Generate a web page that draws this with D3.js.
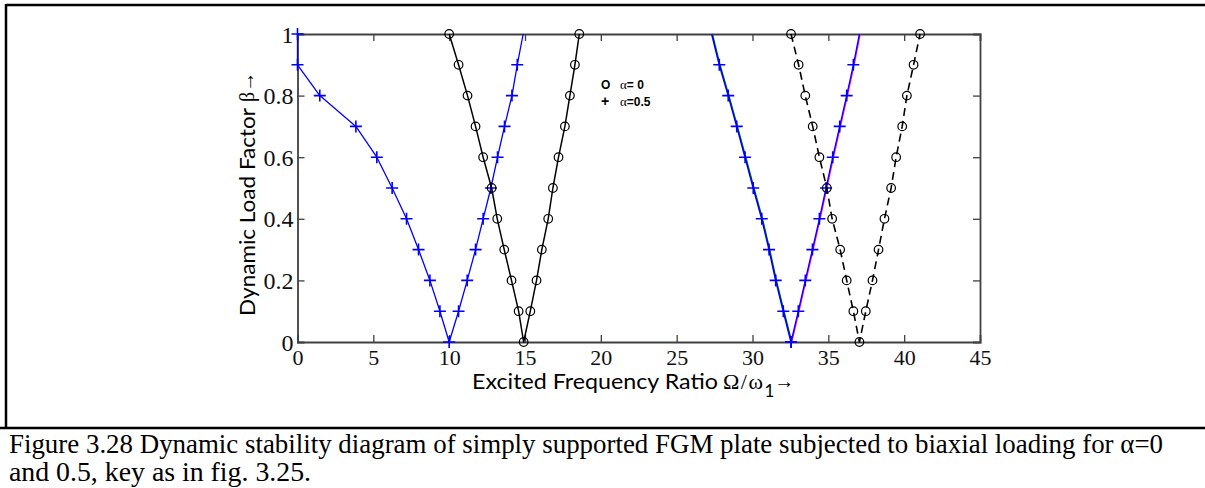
<!DOCTYPE html>
<html>
<head>
<meta charset="utf-8">
<script src="https://cdn.jsdelivr.net/npm/d3@7"></script>
<style>
  body { margin: 0; background: #fff; }
  svg { display: block; }
</style>
</head>
<body>
<svg id="chart" width="1205" height="488"></svg>
<script>
// Excited frequency ratio (Ω/ω1) at each dynamic load factor β, per instability branch.
// α = 0.5, first region (left curve and right boundary)
const a05FirstOmega = [0, 0, 1.47, 3.85, 5.23, 6.24, 7.19, 7.98, 8.73, 9.39, 10.0,
                       10.62, 11.19, 11.74, 12.24, 12.75, 13.19, 13.65, 14.14, 14.49, 14.88];
const a05FirstBeta  = [1, 0.9, 0.8, 0.7, 0.6, 0.5, 0.4, 0.3, 0.2, 0.1, 0,
                       0.1, 0.2, 0.3, 0.4, 0.5, 0.6, 0.7, 0.8, 0.9, 1];
// α = 0, first region
const a0FirstOmega = [10.0, 10.62, 11.21, 11.74, 12.24, 12.8, 13.17, 13.63, 14.11, 14.58, 14.91,
                      15.35, 15.76, 16.11, 16.53, 16.84, 17.21, 17.63, 17.96, 18.29, 18.58];
// α = 0.5, second region, left and right boundaries
const a05SecondLeftOmega  = [27.31, 27.81, 28.40, 28.96, 29.51, 30.05, 30.61, 31.09, 31.53, 32.03, 32.54];
const a05SecondRightOmega = [32.54, 33.02, 33.48, 33.95, 34.41, 34.85, 35.29, 35.75, 36.21, 36.65, 37.05];
// α = 0, second region
const a0SecondOmega = [32.54, 33.04, 33.48, 33.97, 34.41, 34.9, 35.25, 35.78, 36.21, 36.65, 37.05,
                       37.47, 37.91, 38.31, 38.70, 39.14, 39.47, 39.87, 40.18, 40.62, 41.05];
// β levels shared by the V-shaped branches
const betaVee  = [1, 0.9, 0.8, 0.7, 0.6, 0.5, 0.4, 0.3, 0.2, 0.1, 0,
                  0.1, 0.2, 0.3, 0.4, 0.5, 0.6, 0.7, 0.8, 0.9, 1];
const betaDown = [1, 0.9, 0.8, 0.7, 0.6, 0.5, 0.4, 0.3, 0.2, 0.1, 0];
const betaUp   = [0, 0.1, 0.2, 0.3, 0.4, 0.5, 0.6, 0.7, 0.8, 0.9, 1];

const xTicks = [0, 5, 10, 15, 20, 25, 30, 35, 40, 45];
const yTicks = [0, 0.2, 0.4, 0.6, 0.8, 1];
const yTickLabels = ["0", "0.2", "0.4", "0.6", "0.8", "1"];
const legendLabels = ["= 0", "=0.5"];
const captionLines = [
  "Figure 3.28 Dynamic stability diagram of simply supported FGM plate subjected to biaxial loading for \u03b1=0",
  "and 0.5, key as in fig. 3.25."
];

const zip = (xs, ys) => xs.map((x, i) => [x, ys[i]]);

const svg = d3.select("#chart");
svg.append("rect").attr("width", 1205).attr("height", 488).attr("fill", "#fff");

// Figure box borders
svg.append("line").attr("x1", 6).attr("x2", 1205).attr("y1", 5).attr("y2", 5)
  .attr("stroke", "#000").attr("stroke-width", 2.5);
svg.append("line").attr("x1", 6).attr("x2", 6).attr("y1", 4).attr("y2", 429)
  .attr("stroke", "#000").attr("stroke-width", 2.5);
svg.append("line").attr("x1", 0).attr("x2", 1205).attr("y1", 428).attr("y2", 428)
  .attr("stroke", "#000").attr("stroke-width", 2.5);

const plotLeft = 297.5, plotRight = 980, plotTop = 34, plotBottom = 342;
const x = d3.scaleLinear().domain([0, 45]).range([plotLeft, plotRight]);
const y = d3.scaleLinear().domain([0, 1]).range([plotBottom, plotTop]);

const serif = "'Times New Roman', 'Liberation Serif', serif";
const sans = "Lato, 'Open Sans', sans-serif";
const axisColor = "#404040";

// Axes with inward ticks on all four sides
const axB = svg.append("g").attr("transform", `translate(0,${plotBottom})`)
  .call(d3.axisBottom(x).tickValues(xTicks).tickSize(-7).tickPadding(7).tickFormat(d3.format("d")));
const axT = svg.append("g").attr("transform", `translate(0,${plotTop})`)
  .call(d3.axisTop(x).tickValues(xTicks).tickSize(-7).tickFormat(""));
const axL = svg.append("g").attr("transform", `translate(${plotLeft},0)`)
  .call(d3.axisLeft(y).tickValues(yTicks).tickSize(-7).tickPadding(4)
    .tickFormat((d, i) => yTickLabels[i]));
const axR = svg.append("g").attr("transform", `translate(${plotRight},0)`)
  .call(d3.axisRight(y).tickValues(yTicks).tickSize(-7).tickFormat(""));

[axB, axT, axL, axR].forEach(g => {
  g.select(".domain").attr("stroke", axisColor).attr("stroke-width", 1.8);
  g.selectAll(".tick line").attr("stroke", axisColor).attr("stroke-width", 1.3);
  g.selectAll("text").attr("fill", "#111").style("font-family", serif);
});
axB.selectAll("text").style("font-size", "22px").attr("dy", "0.71em");
axL.selectAll("text").style("font-size", "24px").attr("dy", "0.34em");
// drop ticks that would sit on the frame corners
axT.selectAll(".tick").filter(d => d === 0 || d === 45).remove();
axR.selectAll(".tick").filter(d => d === 0 || d === 1).remove();
axB.selectAll(".tick line").filter(d => d === 0 || d === 45).remove();
axL.selectAll(".tick line").filter(d => d === 0 || d === 1).remove();

const line = d3.line().x(d => x(d[0])).y(d => y(d[1]));
const plot = svg.append("g");

function drawPath(data, stroke, width, dash, dx) {
  plot.append("path").datum(data).attr("d", line)
    .attr("transform", dx ? `translate(${dx},0)` : null)
    .attr("fill", "none").attr("stroke", stroke).attr("stroke-width", width)
    .attr("stroke-dasharray", dash || null).attr("stroke-linejoin", "round");
}
function drawPlus(data) {
  const s = 6;
  plot.append("g").selectAll("path").data(data).join("path")
    .attr("d", d => `M${x(d[0]) - s},${y(d[1])}H${x(d[0]) + s}M${x(d[0])},${y(d[1]) - s}V${y(d[1]) + s}`)
    .attr("stroke", "#0000ff").attr("stroke-width", 1.6).attr("fill", "none");
}
function drawCircles(data) {
  plot.append("g").selectAll("circle").data(data).join("circle")
    .attr("cx", d => x(d[0])).attr("cy", d => y(d[1])).attr("r", 4.3)
    .attr("fill", "none").attr("stroke", "#000").attr("stroke-width", 1.2);
}

// α = 0.5, first region
const a05First = zip(a05FirstOmega, a05FirstBeta);
drawPath(a05First, "#0000ff", 1.3);
drawPlus(a05First.slice(0, -1));

// α = 0, first region
const a0First = zip(a0FirstOmega, betaVee);
drawPath(a0First, "#000", 1.5);
drawCircles(a0First);

// α = 0.5, second region (overlaid boundaries)
const a05SecondLeft = zip(a05SecondLeftOmega, betaDown);
const a05SecondRight = zip(a05SecondRightOmega, betaUp);
drawPath(a05SecondLeft, "#008000", 1.4, null, 0.7);
drawPath(a05SecondRight, "#ff00ff", 1.4, null, 0.7);
drawPath(a05SecondLeft, "#0000ff", 1.6);
drawPath(a05SecondRight, "#0000ff", 1.3);
drawPlus(a05SecondLeft.slice(1));
drawPlus(a05SecondRight.slice(0, -1));

// α = 0, second region (dashed)
const a0Second = zip(a0SecondOmega, betaVee);
drawPath(a0Second, "#000", 1.6, "8,5");
drawCircles(a0Second);

// Legend
const legendFont = "'Liberation Sans', Arial, sans-serif";
const legend = svg.append("g").attr("fill", "#000");
legend.append("text").attr("x", 601).attr("y", 89).text("O")
  .style("font-family", legendFont).style("font-weight", "bold").style("font-size", "12px");
legend.append("text").attr("x", 601).attr("y", 106).text("+")
  .style("font-family", legendFont).style("font-weight", "bold").style("font-size", "14px");
legendLabels.forEach((lbl, i) => {
  const t = legend.append("text").attr("x", 620).attr("y", 89 + i * 17);
  t.append("tspan").text("\u03b1").style("font-family", serif).style("font-size", "13px");
  t.append("tspan").text(lbl).style("font-family", legendFont)
    .style("font-weight", "bold").style("font-size", "12px");
});

// X axis label
svg.append("text").attr("x", 472).attr("y", 389).text("Excited Frequency Ratio")
  .attr("textLength", 246).attr("lengthAdjust", "spacingAndGlyphs")
  .style("font-family", sans).style("font-size", "21px").attr("fill", "#000");
const ratio = svg.append("text").attr("x", 723).attr("y", 389)
  .style("font-family", serif).style("font-size", "22px").attr("fill", "#000");
ratio.append("tspan").text("\u03a9/\u03c9").style("letter-spacing", "1.5px");
ratio.append("tspan").attr("dy", 8).text("1").style("font-family", sans).style("font-size", "17px");
ratio.append("tspan").attr("dy", -9).text("\u2192").style("font-size", "20px");

// Y axis label
const yl = svg.append("g").attr("transform", "translate(255,316) rotate(-90)");
yl.append("text").attr("x", 0).attr("y", 0).text("Dynamic Load Factor")
  .attr("textLength", 208).attr("lengthAdjust", "spacingAndGlyphs")
  .style("font-family", sans).style("font-size", "22px").attr("fill", "#000");
yl.append("text").attr("x", 214).attr("y", -1).text("\u03b2\u2192")
  .style("font-family", serif).style("font-size", "20px").attr("fill", "#000");

// Caption
svg.append("text").attr("x", 9).attr("y", 453).text(captionLines[0])
  .attr("textLength", 1154).attr("lengthAdjust", "spacingAndGlyphs")
  .style("font-family", serif).style("font-size", "27px").attr("fill", "#000");
svg.append("text").attr("x", 9).attr("y", 481).text(captionLines[1])
  .attr("textLength", 302).attr("lengthAdjust", "spacingAndGlyphs")
  .style("font-family", serif).style("font-size", "27px").attr("fill", "#000");
</script>
</body>
</html>
